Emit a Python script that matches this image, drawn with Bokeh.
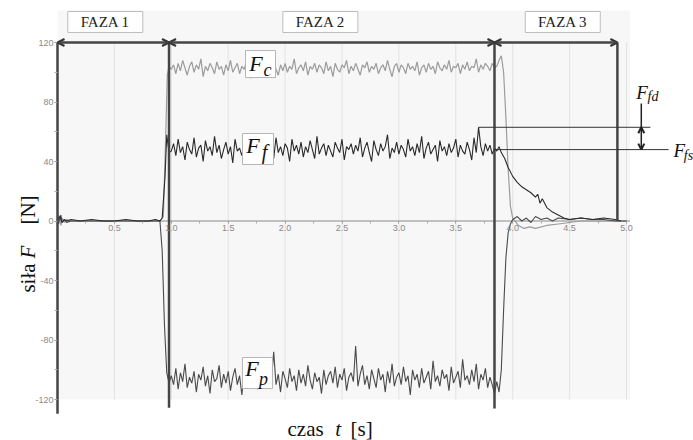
import numpy as np
from bokeh.plotting import figure
from bokeh.models import LinearAxis, FixedTicker, Range1d, Arrow, OpenHead
from bokeh.core.properties import value
from bokeh.embed import file_html
from bokeh.resources import INLINE

# ---------------- data ----------------
phase_bounds = [0.0, 0.98, 3.84, 4.92]
phase_line_bottom = [-129.5, -125.5, -126.0, 0.0]
phase_names = ["FAZA 1", "FAZA 2", "FAZA 3"]
phase_label_t = [0.42, 2.31, 4.44]
phase_label_v = 133.8

x_ticks = [0.5, 1.0, 1.5, 2.0, 2.5, 3.0, 3.5, 4.0, 4.5, 5.0]
x_tick_labels = ["0.5", "1.0", "1.5", "2.0", "2.5", "3.0", "3.5", "4.0", "4.5", "5.0"]
x_minor = [0.25, 0.75, 1.25, 1.75, 2.25, 2.75, 3.25, 3.75, 4.25, 4.75]
y_ticks = [-120, -80, -40, 0, 40, 80, 120]
y_tick_labels = ["-120", "-80", "-40", "0", "40", "80", "120"]
y_minor = [-100, -60, -20, 20, 60, 100]

# phase 1 (rest) and rise
t_pre = [0.0, 0.01, 0.02, 0.03, 0.04, 0.06, 0.08, 0.12, 0.2, 0.3, 0.4, 0.5, 0.6, 0.7, 0.8, 0.86, 0.9]
fc_pre = [0, 4, 1, -3, 2, -1, 1, 0, 0, 0, 0, 0, 0, 0, 0, 0, 0]
ff_pre = [0, 2, 3, 1, -1, 1, 0, 1, 0, 1, 0, 0, 1, 0, 0, 1, 0]
fp_pre = [0, -2, 2, 4, -1, 1, -1, 0, 0, 0, 0, 0, 0, 0, 0, 0, 0]

t_fc_rise = [0.93, 0.95, 0.965, 0.98]
fc_rise = [3, 55, 98, 104]
t_ff_rise = [0.92, 0.945, 0.96, 0.97, 0.98]
ff_rise = [2, 30, 58, 52, 46]
t_fp_rise = [0.92, 0.94, 0.96, 0.98]
fp_rise = [-20, -70, -102, -109]

# phase 2 (sampled every 0.02 s from 1.00 s)
mid_t0 = 1.0
mid_dt = 0.02
fc_mid = [102, 105, 99, 106, 101, 108, 103, 98, 104, 107,
          100, 105, 102, 109, 97, 104, 101, 106, 103, 99,
          107, 102, 104, 98, 105, 101, 108, 100, 103, 106,
          99, 104, 102, 107, 101, 96, 105, 103, 108, 100,
          104, 101, 106, 99, 103, 107, 102, 98, 105, 101,
          106, 100, 104, 102, 109, 99, 103, 105, 101, 107,
          98, 104, 102, 106, 100, 105, 103, 99, 107, 101,
          104, 97, 106, 102, 100, 105, 103, 108, 99, 104,
          101, 106, 102, 98, 105, 103, 107, 100, 104, 102,
          106, 99, 103, 105, 101, 108, 102, 97, 104, 106,
          100, 105, 103, 99, 106, 102, 104, 101, 107, 98,
          103, 105, 100, 106, 102, 104, 99, 107, 103, 101,
          105, 102, 108, 100, 104, 103, 106, 99, 105, 102,
          107, 101, 104, 103, 109, 100, 105, 102, 106, 104,
          101, 106, 103]
ff_mid = [47, 52, 44, 55, 46, 50, 41, 53, 48, 45,
          56, 43, 49, 51, 40, 54, 47, 50, 44, 57,
          46, 51, 42, 48, 53, 45, 50, 39, 55, 47,
          49, 44, 52, 46, 57, 43, 50, 48, 54, 41,
          51, 47, 45, 53, 48, 42, 56, 46, 50, 44,
          52, 49, 40, 55, 47, 51, 45, 53, 43, 50,
          46, 54, 48, 42, 57, 45, 49, 52, 44, 51,
          47, 43, 53, 49, 46, 55, 41, 50, 48, 52,
          45, 51, 47, 56, 43, 49, 53, 46, 40, 54,
          48, 44, 52, 47, 50, 58, 42, 49, 46, 53,
          45, 51, 48, 43, 55, 47, 50, 44, 52, 46,
          57, 42, 49, 53, 45, 48, 51, 40, 54, 47,
          50, 44, 52, 46, 49, 55, 43, 51, 47, 45,
          53, 48, 41, 56, 46, 63, 50, 44, 52, 47,
          51, 45, 49]
fp_mid = [-104, -110, -99, -113, -102, -108, -96, -112, -105, -109,
          -101, -115, -103, -107, -98, -111, -104, -116, -100, -108,
          -106, -97, -112, -103, -109, -101, -114, -105, -99, -110,
          -104, -117, -102, -108, -95, -111, -106, -100, -113, -103,
          -109, -98, -112, -104, -107, -88, -110, -103, -115, -101,
          -106, -112, -99, -108, -104, -114, -100, -109, -103, -111,
          -97, -107, -113, -102, -108, -105, -116, -100, -110, -104,
          -101, -109, -98, -112, -103, -107, -99, -114, -105, -102,
          -108, -84, -111, -103, -97, -110, -104, -113, -100, -106,
          -112, -99, -107, -103, -115, -101, -109, -96, -111, -105,
          -102, -110, -98, -108, -104, -117, -100, -107, -103, -112,
          -99, -109, -105, -101, -113, -94, -108, -104, -111, -100,
          -106, -103, -114, -98, -109, -105, -101, -112, -93, -107,
          -104, -110, -100, -108, -96, -113, -103, -107, -99, -112,
          -105, -110, -116]

# phase 3 (release)
t_fc_post = [3.86, 3.88, 3.90, 3.92, 3.94, 3.96, 3.98, 4.0, 4.05, 4.1, 4.15, 4.2, 4.3, 4.4, 4.5, 4.6, 4.8, 5.0]
fc_post = [104, 108, 111, 100, 70, 35, 10, 2, -3, -5, -4, -5, -3, -2, -1, 0, 0, 0]
t_ff_post = [3.86, 3.88, 3.9, 3.93, 3.96, 4.0, 4.04, 4.08, 4.12, 4.16, 4.2, 4.22, 4.24, 4.26,
             4.3, 4.35, 4.4, 4.45, 4.5, 4.6, 4.7, 4.8, 4.9, 4.95]
ff_post = [47, 50, 46, 42, 36, 30, 26, 23, 21, 19, 16, 18, 12, 15, 9, 6, 4, 2, 1, 2, 1, 2, 1, 0]
t_fp_post = [3.86, 3.88, 3.9, 3.92, 3.94, 3.96, 3.98, 4.0, 4.04, 4.08, 4.12, 4.16, 4.2, 4.25,
             4.3, 4.35, 4.4, 4.5, 4.6, 4.7, 4.8, 4.9, 5.0]
fp_post = [-108, -115, -100, -60, -25, -8, -2, 1, 3, 0, 2, -1, 3, 1, 2, 0, 2, 1, 2, 1, 1, 0, 0]

# friction levels
ffd_t, ffd_level = 3.70, 63
ffs_t, ffs_level = 3.84, 48

# curve label boxes (t, v)
curve_label_t = [1.784, 1.762, 1.757]
curve_label_v = [105.5, 48.4, -102.2]
curve_label_sub = ["c", "f", "p"]

# ---------------- layout constants ----------------
W, H = 693, 440
PX_T, T0_PX = 113.8, 57.0
PX_V, V0_PX = 1.4875, 220.5
SERIF = "Liberation Serif"
SANS = "Liberation Sans"


def mid_times(vals):
    return list(mid_t0 + mid_dt * np.arange(len(vals)))


t_fc = t_pre + t_fc_rise + mid_times(fc_mid) + t_fc_post
v_fc = fc_pre + fc_rise + fc_mid + fc_post
t_ff = t_pre + t_ff_rise + mid_times(ff_mid) + t_ff_post
v_ff = ff_pre + ff_rise + ff_mid + ff_post
t_fp = t_pre + t_fp_rise + mid_times(fp_mid) + t_fp_post
v_fp = fp_pre + fp_rise + fp_mid + fp_post

p = figure(width=W, height=H, output_backend="svg", toolbar_location=None,
           x_axis_type=None, y_axis_type=None,
           x_range=Range1d(-T0_PX / PX_T, (W - T0_PX) / PX_T),
           y_range=Range1d((V0_PX - H) / PX_V, V0_PX / PX_V),
           min_border=0)
p.outline_line_color = None
p.background_fill_color = "white"
p.border_fill_color = "white"

# background + grid
p.quad(left=[0], right=[5.03], bottom=[-120], top=[141.5], fill_color="#f7f7f7", line_color=None)
p.segment(x0=x_ticks, y0=[-120] * len(x_ticks), x1=x_ticks, y1=[120] * len(x_ticks),
          line_color="#e2e2e2", line_width=1)
p.segment(x0=[0], y0=[0], x1=[5.03], y1=[0], line_color="#8a8a8a", line_width=1)

# axes
xaxis = LinearAxis(fixed_location=0,
                   ticker=FixedTicker(ticks=x_ticks, minor_ticks=x_minor),
                   major_label_overrides=dict(zip(x_ticks, x_tick_labels)))
yaxis = LinearAxis(fixed_location=0,
                   ticker=FixedTicker(ticks=y_ticks, minor_ticks=y_minor),
                   major_label_overrides=dict(zip([float(v) for v in y_ticks], y_tick_labels)))
for ax in (xaxis, yaxis):
    ax.axis_line_color = None
    ax.major_tick_line_color = "#9a9a9a"
    ax.minor_tick_line_color = "#a8a8a8"
    ax.major_tick_in = 0
    ax.minor_tick_in = 0
    ax.major_label_text_font = SANS
    ax.major_label_text_font_size = "9px"
    ax.major_label_text_color = "#8a8a8a"
xaxis.major_tick_out = 2
xaxis.minor_tick_out = 2
xaxis.major_label_standoff = 2
yaxis.major_tick_out = 3
yaxis.minor_tick_out = 3
yaxis.major_label_standoff = 1
p.add_layout(xaxis, "below")
p.add_layout(yaxis, "left")

# data curves
p.line(t_fc, v_fc, line_color="#9c9c9c", line_width=1.2)
p.line(t_fp, v_fp, line_color="#4a4a4a", line_width=1.1)
p.line(t_ff, v_ff, line_color="#2a2a2a", line_width=1.1)

# phase lines and arrows
p.segment(x0=phase_bounds, y0=[120] * 4, x1=phase_bounds, y1=phase_line_bottom,
          line_color="#454545", line_width=2.5)
for a, b in zip(phase_bounds[:-1], phase_bounds[1:]):
    p.add_layout(Arrow(start=OpenHead(size=7, line_color="#333333", line_width=2),
                       end=OpenHead(size=7, line_color="#333333", line_width=2),
                       x_start=a, y_start=120, x_end=b, y_end=120,
                       line_color="#454545", line_width=2.5))

# friction annotation lines
p.segment(x0=[ffd_t, ffs_t], y0=[ffd_level, ffs_level], x1=[5.21, 5.37], y1=[ffd_level, ffs_level],
          line_color="#333333", line_width=1)
p.segment(x0=[5.13], y0=[ffd_level], x1=[5.13], y1=[79], line_color="#222222", line_width=1.5)
p.add_layout(Arrow(start=OpenHead(size=6, line_color="#222222", line_width=2),
                   end=OpenHead(size=6, line_color="#222222", line_width=2),
                   x_start=5.13, y_start=ffs_level, x_end=5.13, y_end=ffd_level,
                   line_color="#222222", line_width=1.5))

# phase label boxes
p.rect(x=phase_label_t, y=[phase_label_v] * 3, width=75, height=21,
       width_units="screen", height_units="screen", fill_color="white", line_color="#bdbdbd")
p.text(x=phase_label_t, y=[phase_label_v] * 3, text=phase_names, text_font=value(SERIF),
       text_font_size="15px", text_color="#222222", text_align="center", text_baseline="middle")

# curve label boxes
box_w = [30, 31, 30]
box_h = [27, 31, 31]
F_off = [(-4.5, -1), (-5, -3.5), (-5.5, -5)]
S_off = [(7, 6), (6.5, 2.5), (6, 6)]
S_size = ["18px", "20px", "18px"]
for i in range(3):
    p.rect(x=[curve_label_t[i]], y=[curve_label_v[i]], width=box_w[i], height=box_h[i],
           width_units="screen", height_units="screen", fill_color="white", line_color="#b5b5b5")
    p.text(x=[curve_label_t[i]], y=[curve_label_v[i]], text=["F"], x_offset=F_off[i][0], y_offset=F_off[i][1],
           text_font=value(SERIF), text_font_style="italic", text_font_size="22px",
           text_color="#111111", text_align="center", text_baseline="middle")
    p.text(x=[curve_label_t[i]], y=[curve_label_v[i]], text=[curve_label_sub[i]],
           x_offset=S_off[i][0], y_offset=S_off[i][1],
           text_font=value(SERIF), text_font_style="italic", text_font_size=S_size[i],
           text_color="#111111", text_align="center", text_baseline="middle")

# F_fd, F_fs labels
p.text(x=[5.136, 5.465], y=[86.7, 47.4], text=["F", "F"], text_font=value(SERIF),
       text_font_style="italic", text_font_size="19px", text_color="#111111",
       text_align="center", text_baseline="middle")
p.text(x=[5.233, 5.545], y=[83.7, 44.0], text=["fd", "fs"], text_font=value(SERIF),
       text_font_style="italic", text_font_size="14px", text_color="#111111",
       text_align="center", text_baseline="middle")

# axis titles
p.text(x=[2.021, 2.575], y=[-139.5, -139.5], text=["czas", "[s]"], text_font=value(SERIF),
       text_font_size="21px", text_color="#111111", text_align="left", text_baseline="alphabetic")
p.text(x=[2.44], y=[-139.5], text=["t"], text_font=value(SERIF), text_font_style="italic",
       text_font_size="21px", text_color="#111111", text_align="left", text_baseline="alphabetic")
p.text(x=[-0.255, -0.255], y=[-48.1, -2.4], text=["siła", "[N]"], angle=np.pi / 2,
       text_font=value(SERIF), text_font_size="21px", text_color="#111111",
       text_align="left", text_baseline="alphabetic")
p.text(x=[-0.255], y=[-25.2], text=["F"], angle=np.pi / 2, text_font=value(SERIF),
       text_font_style="italic", text_font_size="21px", text_color="#111111",
       text_align="left", text_baseline="alphabetic")

open("out.html", "w").write(file_html(p, INLINE))
